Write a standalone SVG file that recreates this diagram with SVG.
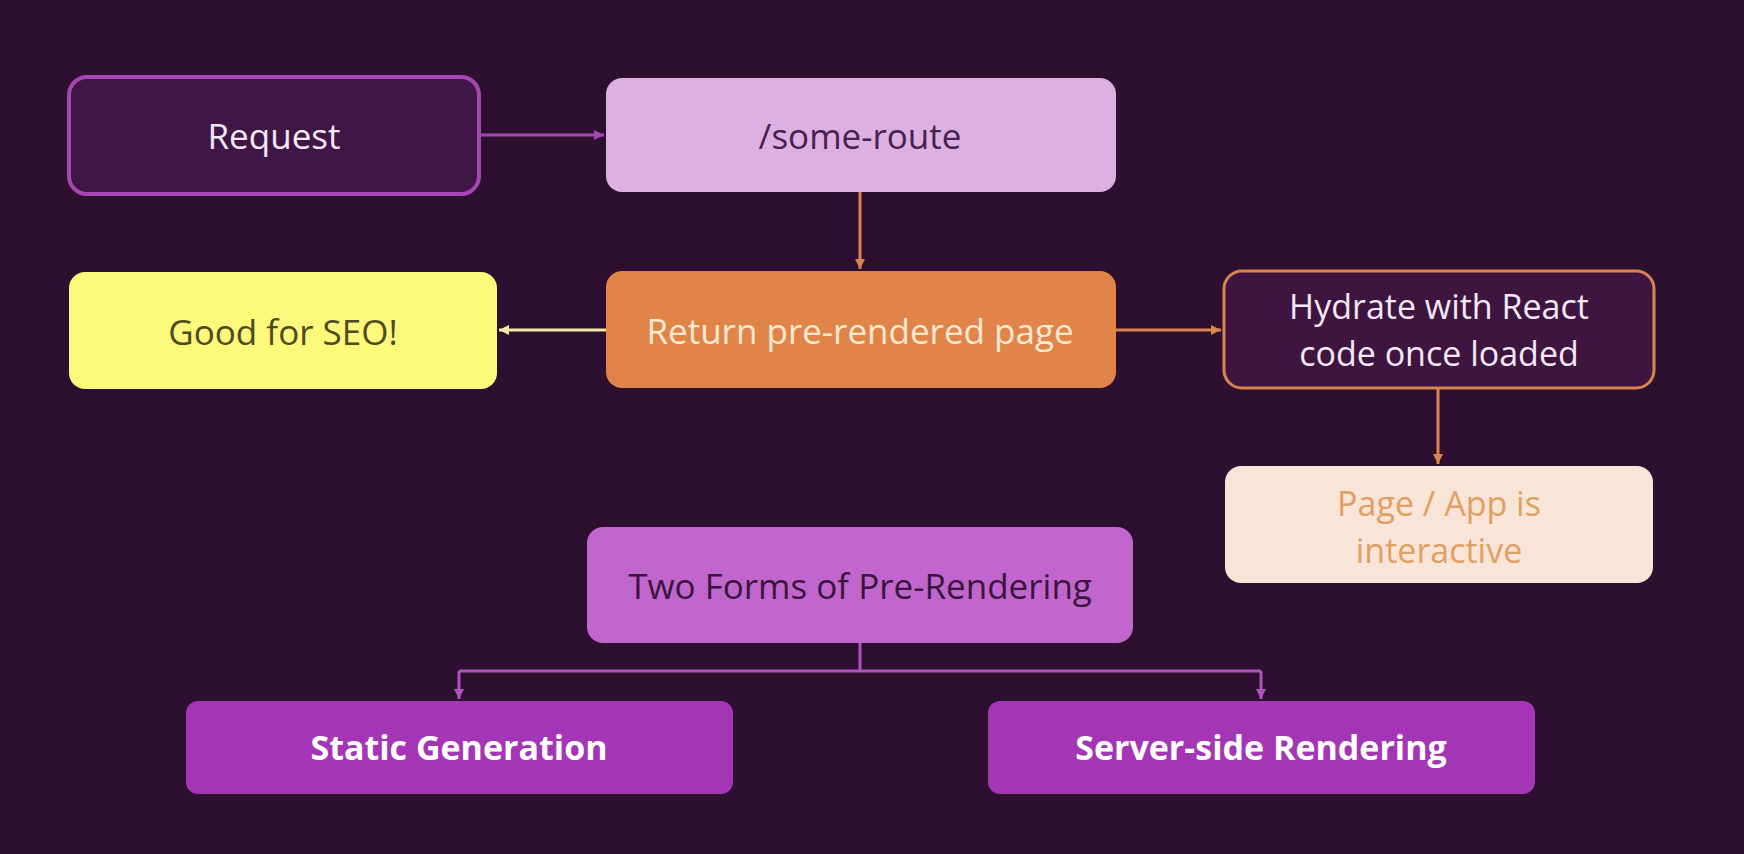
<svg xmlns="http://www.w3.org/2000/svg" width="1744" height="854" viewBox="0 0 1744 854">
<defs>
<style>
text{font-family:"Open Sans","Noto Sans",sans-serif;font-size:35px;text-anchor:middle;dominant-baseline:central}
.b{font-weight:bold;font-size:34px}
.t{font-size:34px}
.c{fill:none;stroke-width:3}
</style>
<marker id="aP" markerWidth="12" markerHeight="12" refX="10" refY="6" orient="auto" markerUnits="userSpaceOnUse"><path d="M0,1 L10,6 L0,11 Z" fill="#a845b4"/></marker>
<marker id="aO" markerWidth="12" markerHeight="12" refX="10" refY="6" orient="auto" markerUnits="userSpaceOnUse"><path d="M0,1 L10,6 L0,11 Z" fill="#d9834e"/></marker>
<marker id="aY" markerWidth="12" markerHeight="12" refX="10" refY="6" orient="auto" markerUnits="userSpaceOnUse"><path d="M0,1 L10,6 L0,11 Z" fill="#f3e8a6"/></marker>
<marker id="aM" markerWidth="12" markerHeight="12" refX="10" refY="6" orient="auto" markerUnits="userSpaceOnUse"><path d="M0,1 L10,6 L0,11 Z" fill="#b152bf"/></marker>
</defs>
<rect width="1744" height="854" fill="#2d1030"/>
<g id="connectors">
<path class="c" d="M479,135 H604" stroke="#a845b4" marker-end="url(#aP)"/>
<path class="c" d="M860,192 V269" stroke="#d9834e" marker-end="url(#aO)"/>
<path class="c" d="M606,330 H499" stroke="#f3e8a6" marker-end="url(#aY)"/>
<path class="c" d="M1116,330 H1221" stroke="#d9834e" marker-end="url(#aO)"/>
<path class="c" d="M1438,389 V464" stroke="#d9834e" marker-end="url(#aO)"/>
<path class="c" d="M860,643 V671 M459,671 H1261" stroke="#b152bf"/>
<path class="c" d="M459,671 V699" stroke="#b152bf" marker-end="url(#aM)"/>
<path class="c" d="M1261,671 V699" stroke="#b152bf" marker-end="url(#aM)"/>
</g>
<g id="request">
<rect x="69" y="77" width="410" height="117" rx="18" fill="#3f1646" stroke="#a845b4" stroke-width="4"/>
<text x="274" y="135" fill="#f4e8f4">Request</text>
</g>
<g id="some-route">
<rect x="606" y="78" width="510" height="114" rx="16" fill="#dcb0e0"/>
<text x="860" y="135" fill="#4a2050">/some-route</text>
</g>
<g id="seo">
<rect x="69" y="272" width="428" height="117" rx="16" fill="#fdf97a"/>
<text x="283" y="331" fill="#4e4a22">Good for SEO!</text>
</g>
<g id="return">
<rect x="606" y="271" width="510" height="117" rx="16" fill="#e0844a"/>
<text x="860" y="330" fill="#fde8d0">Return pre-rendered page</text>
</g>
<g id="hydrate">
<rect x="1224" y="271" width="430" height="117" rx="18" fill="#3d1540" stroke="#d9834e" stroke-width="3"/>
<text class="t" fill="#f4e8f4"><tspan x="1439" y="306">Hydrate with React</tspan><tspan x="1439" y="353">code once loaded</tspan></text>
</g>
<g id="interactive">
<rect x="1225" y="466" width="428" height="117" rx="16" fill="#f9e4d8"/>
<text class="t" fill="#e0a060"><tspan x="1439" y="503">Page / App is</tspan><tspan x="1439" y="550">interactive</tspan></text>
</g>
<g id="two-forms">
<rect x="587" y="527" width="546" height="116" rx="16" fill="#c066cc"/>
<text x="860" y="585" fill="#3a1540">Two Forms of Pre-Rendering</text>
</g>
<g id="static">
<rect x="186" y="701" width="547" height="93" rx="12" fill="#a435b4"/>
<text class="b" x="459" y="747" fill="#ffffff">Static Generation</text>
</g>
<g id="ssr">
<rect x="988" y="701" width="547" height="93" rx="12" fill="#a435b4"/>
<text class="b" x="1261" y="747" fill="#ffffff">Server-side Rendering</text>
</g>
</svg>
